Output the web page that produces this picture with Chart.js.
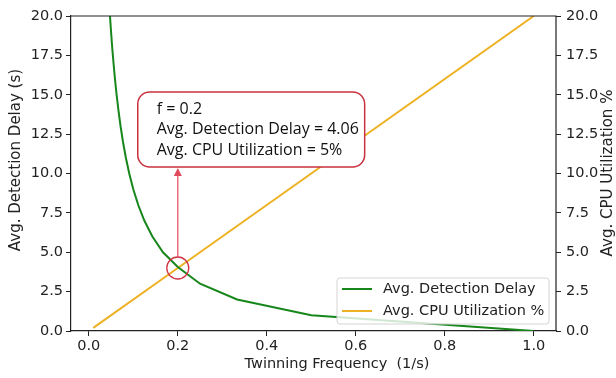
<!DOCTYPE html>
<html>
<head>
<meta charset="utf-8">
<script src="https://cdn.jsdelivr.net/npm/chart.js@4.4.1/dist/chart.umd.min.js"></script>
<style>
  html, body { margin: 0; padding: 0; background: #fff; }
  #wrap { width: 616px; height: 378px; }
</style>
</head>
<body>
<div id="wrap"><canvas id="chart"></canvas></div>
<script>
// twinning frequency (1/s) and measured detection delay (s)
const delayFreq = [0.04, 0.0417, 0.0435, 0.0455, 0.0476, 0.05, 0.0526, 0.0556, 0.0588, 0.0625,
  0.0667, 0.0714, 0.0769, 0.0833, 0.0909, 0.1, 0.1111, 0.125, 0.1429, 0.1667,
  0.2, 0.25, 0.3333, 0.5, 1.0];
const delayValues = [24, 23, 22, 21, 20, 19, 18, 17, 16, 15,
  14, 13, 12, 11, 10, 9, 8, 7, 6, 5,
  4.06, 3, 2, 1, 0];

// CPU utilization (%)
const cpuFreq = [0.01, 0.2, 1.0];
const cpuValues = [0.2, 4, 20];

const xTicks = [0.0, 0.2, 0.4, 0.6, 0.8, 1.0];
const yTicks = [0, 2.5, 5, 7.5, 10, 12.5, 15, 17.5, 20];

const labels = ['Avg. Detection Delay', 'Avg. CPU Utilization %'];
const axisTitles = { x: 'Twinning Frequency  (1/s)', y: 'Avg. Detection Delay (s)', y1: 'Avg. CPU Utilization %' };
const noteLines = ['f = 0.2', 'Avg. Detection Delay = 4.06', 'Avg. CPU Utilization = 5%'];

const GREEN = '#17861b';
const ORANGE = '#eeb123';
const RED = '#c8323e';
const AXIS = '#222';
const TICK_FONT = { family: 'DejaVu Sans', size: 14.5 };

// where the note box and the highlighted point sit, in data units
const note = { x0: 0.11, x1: 0.62, yTop: 15.17, yBottom: 10.41, px: 0.2, py: 4.0 };

const fixTicks = (vals) => (scale) => { scale.ticks = vals.map(v => ({ value: v })); };

const overlay = {
  id: 'overlay',
  afterDatasetsDraw(chart) {
    const { ctx, chartArea: a, scales } = chart;
    const x = scales.x, y = scales.y;
    ctx.save();

    // top and right frame
    ctx.strokeStyle = AXIS;
    ctx.lineWidth = 1.2;
    ctx.beginPath();
    ctx.moveTo(a.left, a.top); ctx.lineTo(a.right, a.top); ctx.lineTo(a.right, a.bottom);
    ctx.stroke();

    // circle round the point
    const cx = x.getPixelForValue(note.px), cy = y.getPixelForValue(note.py);
    const r = 11;
    ctx.strokeStyle = '#d03444';
    ctx.lineWidth = 1.3;
    ctx.beginPath(); ctx.arc(cx, cy, r, 0, Math.PI * 2); ctx.stroke();

    // box
    const bx0 = x.getPixelForValue(note.x0), bx1 = x.getPixelForValue(note.x1);
    const by0 = y.getPixelForValue(note.yTop), by1 = y.getPixelForValue(note.yBottom);
    ctx.beginPath();
    ctx.roundRect(bx0, by0, bx1 - bx0, by1 - by0, 12);
    ctx.fillStyle = '#fff';
    ctx.fill();
    ctx.strokeStyle = RED;
    ctx.lineWidth = 1.5;
    ctx.stroke();

    // arrow
    ctx.strokeStyle = '#e04a5a';
    ctx.fillStyle = '#e04a5a';
    ctx.lineWidth = 1.2;
    ctx.beginPath(); ctx.moveTo(cx, cy - r); ctx.lineTo(cx, by1 + 6); ctx.stroke();
    ctx.beginPath();
    ctx.moveTo(cx, by1 + 1); ctx.lineTo(cx - 4, by1 + 9); ctx.lineTo(cx + 4, by1 + 9); ctx.closePath();
    ctx.fill();

    // note text
    ctx.fillStyle = '#111';
    ctx.font = '16px "Open Sans"';
    ctx.textBaseline = 'middle';
    ctx.textAlign = 'left';
    noteLines.forEach((t, i) => ctx.fillText(t, bx0 + 19, by0 + 17 + i * 20.5));

    // legend
    const lw = 212, lh = 46;
    const lx = a.right - 7 - lw, ly = a.bottom - 7 - lh;
    ctx.beginPath();
    ctx.roundRect(lx, ly, lw, lh, 3);
    ctx.fillStyle = 'rgba(255,255,255,0.8)';
    ctx.fill();
    ctx.strokeStyle = '#d4d4d4';
    ctx.lineWidth = 1;
    ctx.stroke();
    ctx.font = '14.5px "DejaVu Sans"';
    chart.data.datasets.forEach((ds, i) => {
      const ry = ly + 11 + i * 22;
      ctx.strokeStyle = ds.borderColor;
      ctx.lineWidth = 2;
      ctx.beginPath(); ctx.moveTo(lx + 5, ry); ctx.lineTo(lx + 35, ry); ctx.stroke();
      ctx.fillStyle = '#222';
      ctx.fillText(ds.label, lx + 46, ry);
    });

    // axis titles
    ctx.fillStyle = '#222';
    ctx.textAlign = 'center';
    ctx.font = '14.5px "DejaVu Sans"';
    ctx.fillText(axisTitles.x, 337, 364);
    ctx.font = '15px "DejaVu Sans"';
    ctx.save();
    ctx.translate(16, 160);
    ctx.rotate(-Math.PI / 2);
    ctx.fillText(axisTitles.y, 0, 0);
    ctx.restore();
    ctx.translate(608, 173);
    ctx.rotate(-Math.PI / 2);
    ctx.fillText(axisTitles.y1, 0, 0);
    ctx.restore();
  }
};

new Chart(document.getElementById('chart'), {
  type: 'line',
  data: {
    datasets: [{
      label: labels[0],
      data: delayFreq.map((f, i) => ({ x: f, y: delayValues[i] })),
      borderColor: GREEN,
      borderWidth: 2,
      pointRadius: 0,
      tension: 0,
      yAxisID: 'y'
    },
    {
      label: labels[1],
      data: cpuFreq.map((f, i) => ({ x: f, y: cpuValues[i] })),
      borderColor: ORANGE,
      borderWidth: 2,
      pointRadius: 0,
      tension: 0,
      yAxisID: 'y1'
    }]
  },
  options: {
    responsive: true,
    maintainAspectRatio: false,
    animation: false,
    layout: { padding: { top: 16, left: 0, right: 0, bottom: 0 } },
    scales: {
      x: {
        type: 'linear',
        min: -0.04,
        max: 1.05,
        afterBuildTicks: fixTicks(xTicks),
        afterFit(scale) { scale.height = 47; },
        border: { display: true, color: AXIS, width: 1.2 },
        grid: { drawOnChartArea: false, drawTicks: true, tickLength: 5, color: AXIS },
        ticks: { color: '#222', font: TICK_FONT, padding: 2, maxRotation: 0,
                 callback: v => v.toFixed(1) }
      },
      y: {
        position: 'left',
        min: 0,
        max: 20,
        afterBuildTicks: fixTicks(yTicks),
        afterFit(scale) { scale.width = 71; },
        border: { display: true, color: AXIS, width: 1.2 },
        grid: { drawOnChartArea: false, drawTicks: true, tickLength: 5, color: AXIS },
        ticks: { color: '#222', font: TICK_FONT, padding: 3, callback: v => v.toFixed(1) }
      },
      y1: {
        position: 'right',
        min: 0,
        max: 20,
        afterBuildTicks: fixTicks(yTicks),
        afterFit(scale) { scale.width = 60; },
        border: { display: false },
        grid: { drawOnChartArea: false, drawTicks: true, tickLength: 5, color: AXIS },
        ticks: { color: '#222', font: TICK_FONT, padding: 5, callback: v => v.toFixed(1) }
      }
    },
    plugins: {
      legend: { display: false },
      tooltip: { enabled: false }
    }
  },
  plugins: [overlay]
});
</script>
</body>
</html>
